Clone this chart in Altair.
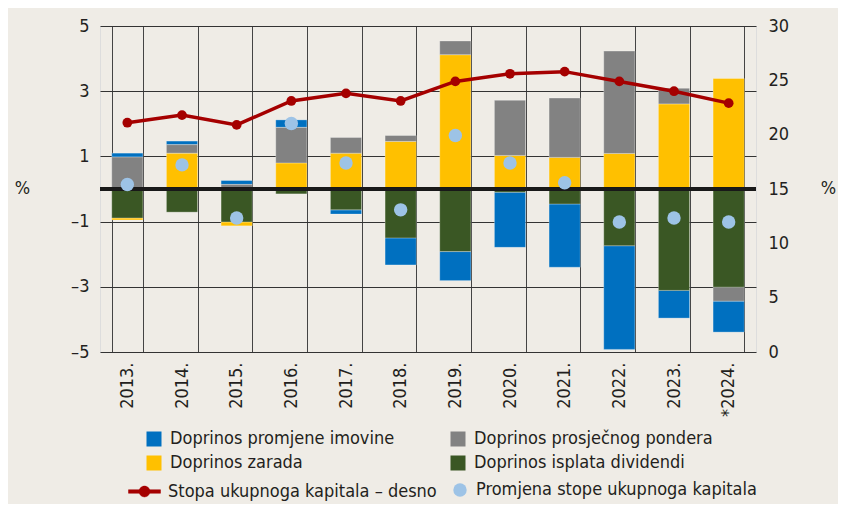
import altair as alt
import pandas as pd

years = ["2013.", "2014.", "2015.", "2016.", "2017.", "2018.", "2019.", "2020.",
         "2021.", "2022.", "2023.", "*2024."]
imovine = [0.12, 0.11, 0.12, 0.23, -0.13, -0.83, -0.89, -1.69, -1.94, -3.18, -0.85, -0.95]
pondera = [0.98, 0.26, 0.14, 1.09, 0.48, 0.18, 0.42, 1.69, 1.82, 3.14, 0.48, -0.43]
zarada = [-0.06, 1.10, -0.12, 0.80, 1.10, 1.46, 4.12, 1.03, 0.97, 1.09, 2.61, 3.39]
dividende = [-0.89, -0.71, -1.01, -0.15, -0.64, -1.50, -1.92, -0.10, -0.46, -1.74, -3.11, -3.01]
stopa = [21.1, 21.8, 20.9, 23.1, 23.8, 23.1, 24.9, 25.6, 25.8, 24.9, 24.0, 22.9]
promjena = [0.14, 0.74, -0.89, 2.01, 0.80, -0.64, 1.64, 0.80, 0.19, -1.01, -0.89, -1.01]

# legend order (filled column by column): imovine, zarada | pondera, dividendi
names = ["Doprinos promjene imovine", "Doprinos zarada",
         "Doprinos prosječnog pondera", "Doprinos isplata dividendi"]
colors = ["#0070C0", "#FFC000", "#828282", "#3A5724"]
stack_rank = [3, 1, 2, 0]
series_vals = [imovine, zarada, pondera, dividende]
line_name = "Stopa ukupnoga kapitala – desno"
pts_name = "Promjena stope ukupnoga kapitala"

FONT = "DejaVu Sans Condensed, Liberation Sans"
FS = 18
TXT = "#231F20"
RED = "#A50000"

rows = []
for name, rank, vals in zip(names, stack_rank, series_vals):
    for g, v in zip(years, vals):
        rows.append({"godina": g, "komponenta": name, "vrijednost": v, "red": rank})
bars_df = pd.DataFrame(rows)
line_df = pd.DataFrame({"godina": years, "stopa": stopa, "serija": [line_name] * len(years)})
pts_df = pd.DataFrame({"godina": years, "promjena": promjena, "serija": [pts_name] * len(years)})

x_enc = alt.X("godina:N", sort=years, title=None,
              scale=alt.Scale(paddingInner=0.43, paddingOuter=0.215),
              axis=alt.Axis(labelAngle=-90, ticks=False, tickSize=0, labelPadding=10,
                            grid=True, tickBand="extent", gridColor="#444", gridWidth=1,
                            domain=False, labelFontSize=FS, labelColor=TXT, labelFont=FONT))

left_scale = alt.Scale(domain=[-5, 5], nice=False)

bars = alt.Chart(bars_df).mark_bar(stroke="#ffffff", strokeWidth=0.8, strokeOpacity=0.35).encode(
    x=x_enc,
    y=alt.Y("vrijednost:Q", stack="zero", scale=left_scale,
            axis=alt.Axis(orient="left", values=[-5, -3, -1, 1, 3, 5], title="%",
                          titleAngle=0, titleX=-78, titleY=162, titleAlign="center",
                          titleBaseline="middle", titleFontSize=FS, titleFontWeight="normal",
                          titleColor=TXT, titleFont=FONT,
                          labelExpr="datum.value < 0 ? '\u2013' + abs(datum.value) : datum.label",
                          ticks=False, tickSize=0, labelPadding=11, domain=False,
                          grid=True, gridColor="#333", gridWidth=1,
                          labelFontSize=FS, labelColor=TXT, labelFont=FONT)),
    color=alt.Color("komponenta:N", scale=alt.Scale(domain=names, range=colors),
                    legend=alt.Legend(orient="none", legendX=45, legendY=404, columns=2,
                                      title=None, symbolType="square", symbolSize=225,
                                      symbolStrokeWidth=0, labelOffset=7, columnPadding=54,
                                      rowPadding=6, labelLimit=400, labelFontSize=FS,
                                      labelColor=TXT, labelFont=FONT)),
    order=alt.Order("red:Q", sort="ascending"),
)

zero = alt.Chart(bars_df).mark_rule(color="#1a1a1a", strokeWidth=2.5).encode(
    y=alt.Y(datum=0, scale=left_scale)
)

left = alt.layer(bars, zero)

right_scale = alt.Scale(domain=[0, 30], nice=False)
right_axis = alt.Axis(orient="right", values=[0, 5, 10, 15, 20, 25, 30], title="%",
                      titleAngle=0, titleX=72, titleY=162, titleAlign="center",
                      titleBaseline="middle", titleFontSize=FS, titleFontWeight="normal",
                      titleColor=TXT, titleFont=FONT, titlePadding=0,
                      ticks=False, tickSize=0, labelPadding=12, domain=False, grid=False,
                      labelFontSize=FS, labelColor=TXT, labelFont=FONT)
line_path = ("M-1,-0.11H1V0.11H-1Z "
             "M0.34,0A0.34,0.34,0,1,1,-0.34,0A0.34,0.34,0,1,1,0.34,0Z")
line = alt.Chart(line_df).mark_line(strokeWidth=3.5).encode(
    x=x_enc,
    y=alt.Y("stopa:Q", scale=right_scale, axis=right_axis, title="%"),
    stroke=alt.Stroke("serija:N", scale=alt.Scale(domain=[line_name], range=[RED]),
                      legend=alt.Legend(orient="none", legendX=28, legendY=449, title=None,
                                        symbolType=line_path, symbolSize=1024,
                                        symbolFillColor=RED, symbolStrokeColor=RED,
                                        symbolStrokeWidth=0.5, labelOffset=7, labelLimit=400,
                                        labelFontSize=FS, labelColor=TXT, labelFont=FONT)),
)
dots = alt.Chart(line_df).mark_circle(size=95, opacity=1, color=RED).encode(
    x=x_enc, y=alt.Y("stopa:Q", scale=right_scale, axis=right_axis, title="%")
)
right = alt.layer(line, dots)

pts = alt.Chart(pts_df).mark_circle(size=180, opacity=1).encode(
    x=x_enc,
    y=alt.Y("promjena:Q", scale=left_scale, axis=None),
    fill=alt.Fill("serija:N", scale=alt.Scale(domain=[pts_name], range=["#9DC3E6"]),
                  legend=alt.Legend(orient="none", legendX=351, legendY=455, title=None,
                                    symbolType="circle", symbolSize=180, symbolStrokeWidth=0,
                                    labelOffset=7, labelLimit=400, labelFontSize=FS,
                                    labelColor=TXT, labelFont=FONT)),
)

chart = alt.layer(left, right, pts).resolve_scale(
    y="independent"
).properties(
    width=656, height=326,
    autosize=alt.AutoSizeParams(type="none"),
    padding={"left": 92, "top": 18, "right": 82, "bottom": 152},
    background="#EFECE6",
).configure_view(
    stroke="#333", strokeWidth=1.5
).configure(font=FONT)

chart.save("out.html", embed_options={"renderer": "svg", "actions": False})
